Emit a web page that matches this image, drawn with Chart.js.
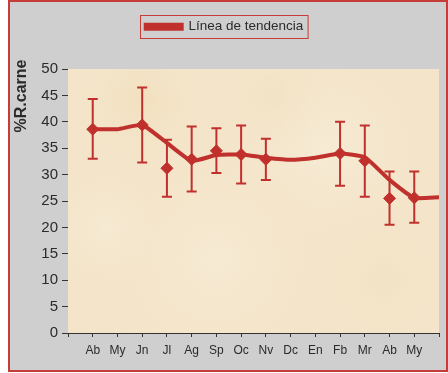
<!DOCTYPE html>
<html>
<head>
<meta charset="utf-8">
<script src="https://cdn.jsdelivr.net/npm/chart.js@4.4.1/dist/chart.umd.min.js"></script>
<style>
  html, body { margin: 0; padding: 0; background: #fff; }
  #frame {
    position: absolute; left: 8px; top: 0; width: 440px; height: 372px;
    box-sizing: border-box; border: 2px solid #c63c38; background: #cfcfcf;
  }
  #wrap { position: absolute; left: 0; top: 0; width: 448px; height: 373px; }
</style>
</head>
<body>
<div id="frame"></div>
<div id="wrap"><canvas id="chart" width="448" height="373"></canvas></div>
<script>
// months (first and last slot are empty so the line runs to the edge)
const months = ["", "Ab", "My", "Jn", "Jl", "Ag", "Sp", "Oc", "Nv", "Dc", "En", "Fb", "Mr", "Ab", "My", ""];
const trend  = [null, 38.6, 38.6, 39.4, 36.0, 32.6, 33.7, 33.8, 33.2, 32.8, 33.2, 34.0, 33.3, 29.0, 25.6, 25.7];
const means  = [null, 38.6, null, 39.4, 31.2, 32.9, 34.5, 33.8, 32.9, null, null, 34.0, 32.6, 25.5, 25.6, null];
const upper  = [null, 44.3, null, 46.5, 36.6, 39.1, 38.8, 39.3, 36.8, null, null, 40.0, 39.3, 30.6, 30.6, null];
const lower  = [null, 33.0, null, 32.3, 25.8, 26.8, 30.3, 28.3, 29.0, null, null, 27.9, 25.8, 20.5, 20.9, null];
const yTicks = [0, 5, 10, 15, 20, 25, 30, 35, 40, 45, 50];

const RED = "#c0302c";
const TXT = "#2b2b2b";

// parchment fill behind the plot
const parchment = {
    id: "parchment",
    beforeDatasetsDraw(chart) {
        const { ctx, chartArea: a } = chart;
        ctx.save();
        ctx.fillStyle = "#f4e5ca";
        ctx.fillRect(a.left, a.top, a.right - a.left, a.bottom - a.top);
        const spots = [[0.2, 0.12, 80, "rgba(240,218,180,0.5)"], [0.7, 0.3, 110, "rgba(249,239,220,0.6)"],
                       [0.4, 0.72, 120, "rgba(249,238,218,0.6)"], [0.85, 0.8, 80, "rgba(240,222,188,0.4)"],
                       [0.1, 0.6, 70, "rgba(249,239,220,0.5)"], [0.55, 0.1, 60, "rgba(240,220,184,0.4)"]];
        spots.forEach(([fx, fy, r, c]) => {
            const x = a.left + fx * (a.right - a.left), y = a.top + fy * (a.bottom - a.top);
            const g = ctx.createRadialGradient(x, y, 0, x, y, r);
            g.addColorStop(0, c);
            g.addColorStop(1, "rgba(244,229,202,0)");
            ctx.fillStyle = g;
            ctx.fillRect(a.left, a.top, a.right - a.left, a.bottom - a.top);
        });
        ctx.restore();
    }
};

// error bars from upper / lower arrays
const errorBars = {
    id: "errorBars",
    afterDatasetsDraw(chart) {
        const { ctx, scales: { x, y } } = chart;
        ctx.save();
        ctx.strokeStyle = RED;
        ctx.lineWidth = 2;
        months.forEach((m, i) => {
            if (upper[i] == null) return;
            const px = x.getPixelForValue(i);
            const top = y.getPixelForValue(upper[i]);
            const bot = y.getPixelForValue(lower[i]);
            ctx.beginPath();
            ctx.moveTo(px, top); ctx.lineTo(px, bot);
            ctx.moveTo(px - 5, top); ctx.lineTo(px + 5, top);
            ctx.moveTo(px - 5, bot); ctx.lineTo(px + 5, bot);
            ctx.stroke();
        });
        ctx.restore();
    }
};

// box around legend + y title placed at the top
const extras = {
    id: "extras",
    beforeInit(chart) {
        const fit = chart.legend.fit;
        chart.legend.fit = function () {
            fit.bind(chart.legend)();
            this.height = 59;
        };
    },
    afterDraw(chart) {
        const { ctx } = chart;
        const hb = chart.legend.legendHitBoxes[0];
        ctx.save();
        if (hb) {
            ctx.strokeStyle = "#c63c38";
            ctx.lineWidth = 1;
            ctx.strokeRect(Math.round(hb.left) - 5.5, 15.5, hb.width + 10, 23);
        }
        ctx.translate(22, 96);
        ctx.rotate(-Math.PI / 2);
        ctx.fillStyle = TXT;
        ctx.font = "bold 16px Arial, 'Liberation Sans'";
        ctx.textAlign = "center";
        ctx.textBaseline = "middle";
        ctx.fillText("%R.carne", 0, 0);
        ctx.restore();
    }
};

new Chart(document.getElementById("chart"), {
    type: "line",
    data: {
        labels: months,
        datasets: [
            {
                label: "Línea de tendencia",
                data: trend,
                borderColor: RED,
                backgroundColor: RED,
                borderWidth: 4,
                pointRadius: 0,
                tension: 0.15,
                spanGaps: false
            },
            {
                label: "media",
                data: means,
                showLine: false,
                pointStyle: "rectRot",
                pointRadius: 6,
                pointBackgroundColor: RED,
                pointBorderColor: RED
            }
        ]
    },
    options: {
        responsive: false,
        animation: false,
        layout: { padding: { left: 10, right: 9, top: 10, bottom: 0 } },
        plugins: {
            tooltip: { enabled: false },
            legend: {
                position: "top",
                labels: {
                    filter: item => item.datasetIndex === 0,
                    boxWidth: 36,
                    boxHeight: 4,
                    padding: 10,
                    color: TXT,
                    font: { family: "Arial, 'Liberation Sans'", size: 13.5 }
                }
            }
        },
        scales: {
            x: {
                offset: false,
                afterFit(s) { s.height = 40; },
                grid: { display: true, drawOnChartArea: false, tickLength: 4, color: "#333" },
                border: { color: "#333", width: 1 },
                ticks: {
                    autoSkip: false, maxRotation: 0, padding: 6, color: TXT,
                    font: { family: "Arial, 'Liberation Sans'", size: 12 }
                }
            },
            y: {
                min: 0,
                max: 50,
                afterFit(s) { s.width = 58; },
                afterBuildTicks(s) { s.ticks = yTicks.map(v => ({ value: v })); },
                grid: { display: true, drawOnChartArea: false, tickLength: 6, color: "#333" },
                border: { color: "#333", width: 1 },
                ticks: {
                    padding: 4, color: TXT,
                    font: { family: "Arial, 'Liberation Sans'", size: 15 }
                }
            }
        }
    },
    plugins: [parchment, errorBars, extras]
});
</script>
</body>
</html>
